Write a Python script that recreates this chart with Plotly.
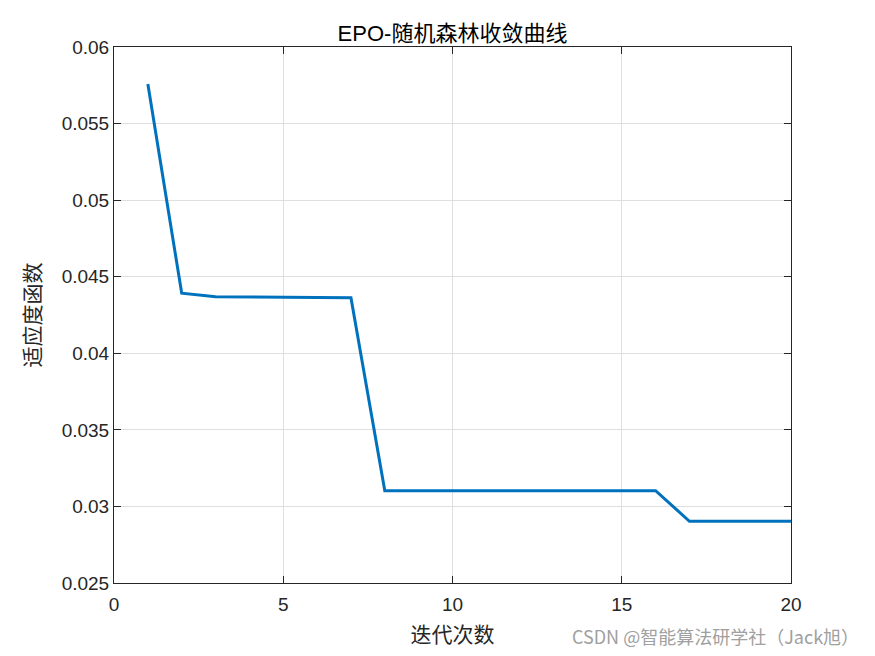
import plotly.graph_objects as go

iterations = list(range(1, 21))
fitness = [0.05758, 0.04392, 0.04369, 0.04369, 0.04368, 0.04365, 0.04363,
           0.03103, 0.03103, 0.03103, 0.03103, 0.03103, 0.03103, 0.03103,
           0.03103, 0.03103, 0.02903, 0.02903, 0.02903, 0.02903]
x_ticks = [0, 5, 10, 15, 20]
y_ticks = [0.025, 0.03, 0.035, 0.04, 0.045, 0.05, 0.055, 0.06]
y_tick_labels = ["0.025", "0.03", "0.035", "0.04", "0.045", "0.05", "0.055", "0.06"]

fig = go.Figure()
fig.add_trace(go.Scatter(x=iterations, y=fitness, mode="lines",
                         line=dict(color="#0072BD", width=3), showlegend=False))

axis_common = dict(showline=True, linecolor="#262626", linewidth=1, mirror="ticks",
                   ticks="inside", ticklen=7, tickcolor="#262626", automargin=False,
                   showgrid=True, gridcolor="#DFDFDF", gridwidth=1, zeroline=False,
                   tickfont=dict(family="Liberation Sans, Arial", size=19, color="#262626"))

fig.update_xaxes(range=[0, 20], tickvals=x_ticks, ticklabelstandoff=4, **axis_common,
                 title=dict(text="迭代次数", font=dict(family="Noto Sans CJK SC", size=21, color="#262626"), standoff=16))
fig.update_yaxes(range=[0.025, 0.06], tickvals=y_ticks, ticktext=y_tick_labels, **axis_common,
                 title=dict(text="适应度函数", font=dict(family="Noto Sans CJK SC", size=21, color="#262626"), standoff=15))

fig.update_layout(
    width=859, height=640,
    margin=dict(l=106, r=76, t=39, b=65, autoexpand=False),
    paper_bgcolor="white", plot_bgcolor="white",
    title=dict(text="EPO-随机森林收敛曲线", xref="paper", x=0.5, xanchor="center",
               yref="container", y=0.961, yanchor="middle",
               font=dict(family="Liberation Sans, Noto Sans CJK SC", size=22, color="black")),
    annotations=[dict(text="CSDN @智能算法研学社（Jack旭）", xref="paper", yref="paper",
                      x=0.889, y=0.0, xanchor="center", yanchor="middle",
                      yshift=-53, showarrow=False,
                      font=dict(family="Noto Sans CJK SC", size=18, color="#A0A0A0"))],
)

fig.write_html("out.html")
